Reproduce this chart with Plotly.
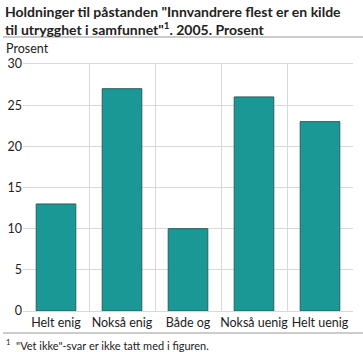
import plotly.graph_objects as go

categories = ["Helt enig", "Nokså enig", "Både og", "Nokså uenig", "Helt uenig"]
values = [13, 27, 10, 26, 23]
y_ticks = [0, 5, 10, 15, 20, 25, 30]

FONT = "Lato"
W, H = 363, 352
ML, MR, MT, MB = 23, 10, 64, 41
PW, PH = W - ML - MR, H - MT - MB

def px_x(px):
    return (px - ML) / PW

def px_y(py):
    return (H - MB - py) / PH

fig = go.Figure()
fig.add_trace(go.Bar(
    x=categories, y=values,
    marker=dict(color="#1a9896", line=dict(color="#2b5d5b", width=1)),
    width=0.6,
    hoverinfo="skip",
))

fig.update_layout(
    width=W, height=H,
    margin=dict(l=ML, r=MR, t=MT, b=MB, autoexpand=False),
    paper_bgcolor="white", plot_bgcolor="white",
    showlegend=False,
    font=dict(family=FONT, size=12, color="#222"),
)
fig.update_xaxes(
    type="category",
    showgrid=True, gridcolor="#d9d9d9", gridwidth=1,
    tickson="boundaries", ticks="", ticklen=0, tickangle=0,
    showline=True, linecolor="#d9d9d9", mirror=True,
    tickfont=dict(family=FONT, size=12.5, color="#222"),
    zeroline=False, automargin=False,
)
fig.update_yaxes(
    range=[0, 30], tickvals=y_ticks, ticktext=[str(v) for v in y_ticks],
    showgrid=True, gridcolor="#d9d9d9", gridwidth=1,
    zeroline=False, showline=False, ticks="", automargin=False,
    tickfont=dict(family=FONT, size=12.5, color="#222"),
)

fig.add_annotation(
    text="Holdninger til påstanden \"Innvandrere flest er en kilde<br>til utrygghet i samfunnet\"<sup>1</sup>. 2005. Prosent",
    xref="paper", yref="paper", x=px_x(3), xanchor="left",
    y=px_y(1), yanchor="top",
    align="left", showarrow=False,
    font=dict(family=FONT, size=14, color="#222", weight="bold"),
)
fig.add_annotation(
    text="Prosent", xref="paper", yref="paper", x=px_x(4), xanchor="left",
    y=px_y(48), yanchor="middle", showarrow=False,
    font=dict(family=FONT, size=12.5, color="#222"),
)
fig.add_annotation(
    text="<sup>1</sup>  \"Vet ikke\"-svar er ikke tatt med i figuren.",
    xref="paper", yref="paper", x=px_x(4), xanchor="left",
    y=px_y(344), yanchor="middle", showarrow=False,
    font=dict(family=FONT, size=11, color="#222"),
)
for py in (37, 333):
    fig.add_shape(type="line", xref="paper", yref="paper",
                  x0=px_x(3), x1=px_x(363), y0=px_y(py), y1=px_y(py),
                  line=dict(color="#999", width=1))
fig.write_html("out.html")
